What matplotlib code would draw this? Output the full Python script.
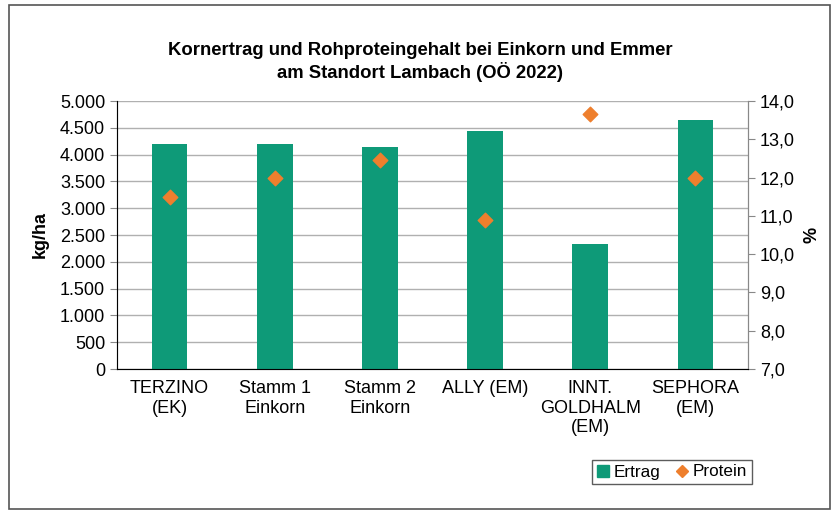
import matplotlib.pyplot as plt
import matplotlib.patches as mpatches
from matplotlib.lines import Line2D
from matplotlib.ticker import FuncFormatter

plt.rcParams['font.family'] = ['Liberation Sans', 'DejaVu Sans']

categories = ["TERZINO\n(EK)", "Stamm 1\nEinkorn", "Stamm 2\nEinkorn", "ALLY (EM)",
              "INNT.\nGOLDHALM\n(EM)", "SEPHORA\n(EM)"]
ertrag = [4200, 4200, 4140, 4440, 2340, 4650]
protein = [11.5, 12.0, 12.45, 10.9, 13.65, 12.0]

green = '#0E9A78'
orange = '#EE7F2D'
grid_c = '#B0B0B0'

fig = plt.figure(figsize=(8.4, 5.13), dpi=100)
fig.patches.append(mpatches.Rectangle((9/840, 1-509/513), 821/840, 504/513,
                                      transform=fig.transFigure, fill=False,
                                      edgecolor='#555555', linewidth=1.2))
ax = fig.add_axes([117/840, 1-369/513, 631/840, 268/513])
x = list(range(len(categories)))
ax.bar(x, ertrag, width=0.34, color=green, zorder=3)
ax.set_xlim(-0.5, len(categories)-0.5)
ax.set_ylim(0, 5000)
ax.set_yticks(range(0, 5001, 500))
ax.yaxis.set_major_formatter(FuncFormatter(lambda v, p: f"{int(v):,}".replace(',', '.')))
ax.grid(axis='y', color=grid_c, linewidth=1, zorder=0)
ax.set_xticks(x)
ax.set_xticklabels(categories, fontsize=13, va='top')
ax.tick_params(axis='x', length=0, pad=8)
ax.tick_params(axis='y', labelsize=13, length=5, color='#888888')
ax.spines['top'].set_visible(False)
for s in ['left', 'bottom', 'right']:
    ax.spines[s].set_color('#888888')
ax.set_ylabel('kg/ha', fontsize=13, fontweight='bold', labelpad=8)

ax2 = ax.twinx()
ax2.scatter(x, protein, marker='D', s=55, color=orange, zorder=4)
ax2.set_ylim(7, 14)
ax2.set_yticks(range(7, 15))
ax2.yaxis.set_major_formatter(FuncFormatter(lambda v, p: f"{v:.1f}".replace('.', ',')))
ax2.tick_params(axis='y', labelsize=13, length=5, color='#888888')
ax2.spines['top'].set_visible(False)
ax2.spines['right'].set_color('#888888')
ax2.set_ylabel('%', fontsize=13, fontweight='bold', labelpad=6)

fig.text(0.5, 1-62/513, "Kornertrag und Rohproteingehalt bei Einkorn und Emmer\nam Standort Lambach (OÖ 2022)",
         ha='center', va='center', fontsize=13.3, fontweight='bold', linespacing=1.2)

handles = [mpatches.Patch(color=green, label='Ertrag'),
           Line2D([], [], marker='D', color=orange, linestyle='None', markersize=6.5, label='Protein')]
leg = fig.legend(handles=handles, loc='center', bbox_to_anchor=(672/840, 1-472/513), ncol=2,
                 fontsize=12.3, frameon=True, fancybox=False, edgecolor='#333333',
                 handlelength=0.7, handleheight=0.7, handletextpad=0.3, columnspacing=0.9,
                 borderpad=0.25, borderaxespad=0)
leg.get_frame().set_linewidth(1.0)

fig.savefig('out.png', dpi=100)
